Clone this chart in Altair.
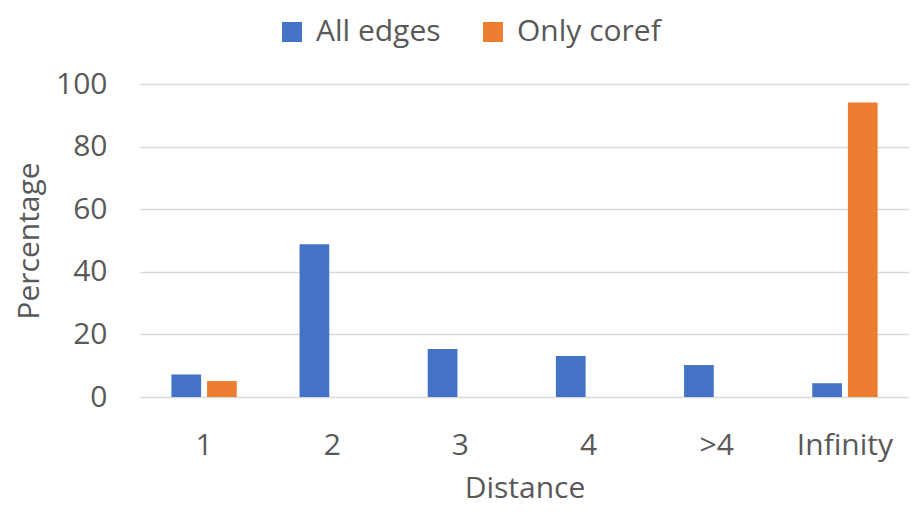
import altair as alt
import pandas as pd

categories = ["1", "2", "3", "4", ">4", "Infinity"]
all_edges = [7.2, 48.8, 15.3, 13.1, 10.2, 4.4]
only_coref = [5.1, 0, 0, 0, 0, 94.1]
series_names = ["All edges", "Only coref"]
colors = ["#4472C4", "#ED7D31"]
y_ticks = [0, 20, 40, 60, 80, 100]

rows = []
for c, a, o in zip(categories, all_edges, only_coref):
    rows.append({"Distance": c, "series": series_names[0], "value": a})
    rows.append({"Distance": c, "series": series_names[1], "value": o})
df = pd.DataFrame(rows)

FONT = "Open Sans"
TXT = "#595959"
W, H = 769, 313

chart = alt.Chart(df).mark_bar().encode(
    x=alt.X(
        "Distance:N",
        sort=categories,
        scale=alt.Scale(paddingInner=0.49, paddingOuter=0.245),
        axis=alt.Axis(
            title="Distance",
            labelAngle=0,
            labelFont=FONT,
            labelFontSize=30,
            labelColor=TXT,
            labelBaseline="alphabetic",
            labelPadding=57,
            ticks=False,
            tickSize=0,
            domain=False,
            grid=False,
            titleFont=FONT,
            titleFontSize=30,
            titleFontWeight="normal",
            titleColor=TXT,
            titleBaseline="alphabetic",
            titleY=100,
        ),
    ),
    xOffset=alt.XOffset(
        "series:N",
        sort=series_names,
        scale=alt.Scale(paddingInner=0.167, paddingOuter=0),
    ),
    y=alt.Y(
        "value:Q",
        scale=alt.Scale(domain=[0, 100], nice=False),
        axis=alt.Axis(
            title="Percentage",
            values=y_ticks,
            labelFont=FONT,
            labelFontSize=30,
            labelColor=TXT,
            labelPadding=33,
            ticks=False,
            tickSize=0,
            domain=False,
            grid=True,
            gridColor="#D9D9D9",
            gridWidth=1.5,
            titleFont=FONT,
            titleFontSize=30,
            titleFontWeight="normal",
            titleColor=TXT,
            titleX=-111,
            titleY=H / 2,
            titleAngle=-90,
            titleAlign="center",
            titleBaseline="middle",
        ),
    ),
    color=alt.Color(
        "series:N",
        sort=series_names,
        scale=alt.Scale(domain=series_names, range=colors),
        title=None,
        legend=alt.Legend(
            orient="none",
            legendX=137,
            legendY=-67,
            direction="horizontal",
            symbolType="square",
            symbolSize=400,
            symbolStrokeWidth=0,
            labelFont=FONT,
            labelFontSize=30,
            labelColor=TXT,
            labelOffset=9,
            columnPadding=37,
        ),
    ),
).properties(
    width=W,
    height=H,
    padding={"left": 132, "top": 76, "right": 0, "bottom": 111},
    autosize=alt.AutoSizeParams(type="none"),
).configure_view(stroke=None)

chart.save("out.html", embed_options={"renderer": "svg", "actions": False})
